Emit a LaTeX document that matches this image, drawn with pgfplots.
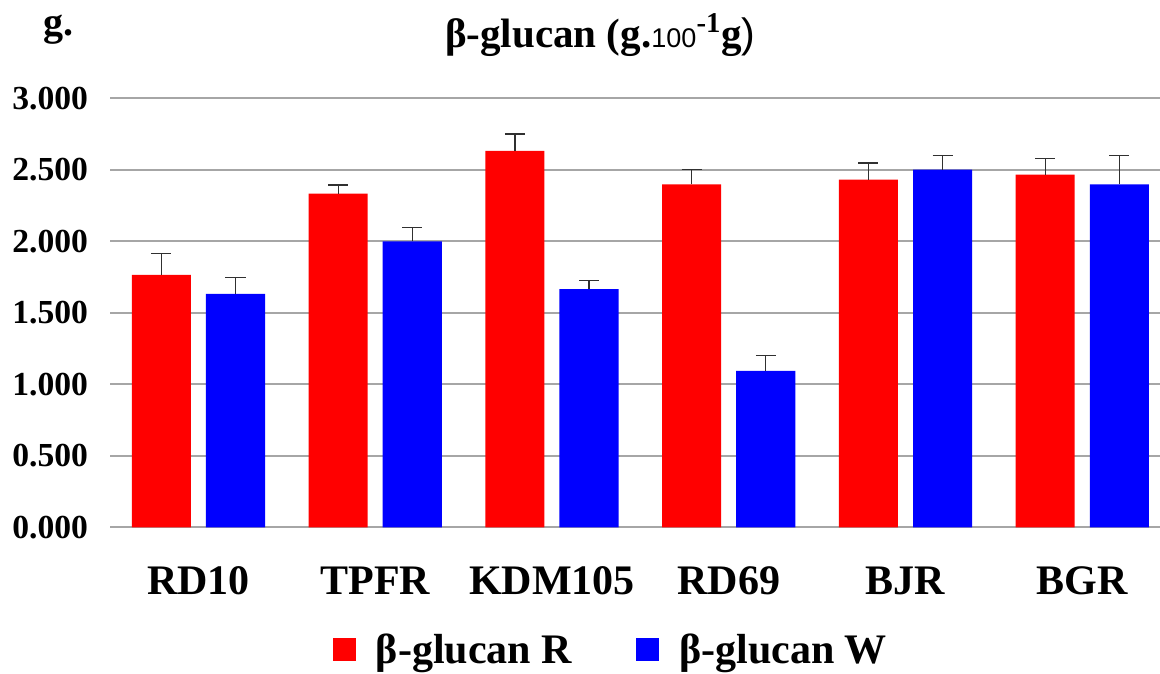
\documentclass[border=0pt]{standalone}
\usepackage{fontspec}
\setmainfont{Liberation Serif}
\newfontfamily\arial{Liberation Sans}
\usepackage{pgfplots}
\pgfplotsset{compat=1.18}
\definecolor{gridgray}{HTML}{A6A6A6}
\definecolor{errgray}{HTML}{303030}
\begin{document}
\begin{tikzpicture}
\begin{axis}[
 scale only axis, width=524.5pt, height=214.3pt,
 ybar=7.5pt, bar width=29.5pt,
 xmin=-0.5, xmax=5.44, ymin=0, ymax=3,
 ytick={0,0.5,...,3}, xtick={0,...,5},
 xticklabels={RD10,TPFR,KDM105,RD69,BJR,BGR},
 axis line style={draw=none}, major tick length=0pt,
 ymajorgrids, grid style={gridgray, line width=1pt},
 /pgf/number format/assume math mode=true,
 /pgf/number format/fixed, /pgf/number format/fixed zerofill,
 /pgf/number format/precision=3,
 yticklabel style={font=\fontsize{16.8}{19}\selectfont\bfseries, xshift=-7.5pt},
 xticklabel style={font=\fontsize{21}{24}\selectfont\bfseries, yshift=-16pt},
 legend style={at={(0.478,-0.285)}, anchor=center, draw=none, fill=none,
   font=\fontsize{21}{24}\selectfont\bfseries, legend columns=2,
   /tikz/every even column/.append style={column sep=30pt}},
 legend image code/.code={\fill[#1] (0pt,-5.75pt) rectangle (11.5pt,5.75pt);
   \path (19.5pt,0pt);},
 error bars/y dir=plus, error bars/y explicit,
 error bars/error bar style={errgray, line width=0.6pt},
 error bars/error mark options={errgray, line width=0.6pt, mark size=5pt, rotate=90},
 clip=false,
]
\addplot[fill=red, draw=none] coordinates {
 (0,1.766) +- (0,0.152)
 (1,2.334) +- (0,0.061)
 (2,2.633) +- (0,0.119)
 (3,2.400) +- (0,0.102)
 (4,2.432) +- (0,0.117)
 (5,2.467) +- (0,0.115)
};
\addplot[fill=blue, draw=none] coordinates {
 (0,1.633) +- (0,0.117)
 (1,2.000) +- (0,0.100)
 (2,1.666) +- (0,0.060)
 (3,1.095) +- (0,0.108)
 (4,2.502) +- (0,0.101)
 (5,2.400) +- (0,0.200)
};
\legend{β-glucan R, β-glucan W}
\node[anchor=base, font=\fontsize{20.5}{24}\selectfont\bfseries] at ([yshift=25.5pt]rel axis cs:0.467,1)
 {β-glucan (g.{\arial\mdseries\fontsize{13.5}{15}\selectfont 100}\textsuperscript{-1}g{\arial\mdseries )}};
\node[anchor=base, font=\fontsize{20}{24}\selectfont\bfseries] at ([xshift=-25.75pt,yshift=31.5pt]rel axis cs:0,1) {g.};
\coordinate (sw) at (rel axis cs:0,0);
\coordinate (ne) at (rel axis cs:1,1);
\end{axis}
\pgfresetboundingbox
\path ([xshift=-55pt,yshift=-73pt]sw) rectangle ([yshift=49.2pt]ne);
\end{tikzpicture}
\end{document}
